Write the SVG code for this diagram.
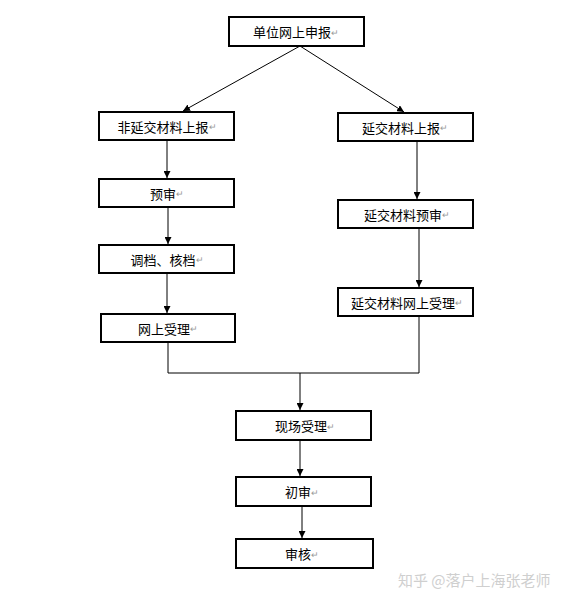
<svg xmlns="http://www.w3.org/2000/svg" width="570" height="608" viewBox="0 0 570 608">
<style>
.box{fill:#fff;stroke:#000;stroke-width:2}
.t{font-family:"Noto Sans CJK SC",sans-serif;font-size:13px;fill:#000;text-anchor:middle;dominant-baseline:central}
.r{fill:#999;font-size:9px}
.c{fill:none;stroke:#000;stroke-width:1}
.wm{font-family:"Noto Sans CJK SC",sans-serif;font-size:15px;fill:#cfcfcf}
</style>
<defs>
<marker id="ah" viewBox="0 0 10 10" refX="10" refY="5" markerWidth="7" markerHeight="7" markerUnits="userSpaceOnUse" orient="auto">
<path d="M0,0 L10,5 L0,10 z" fill="#000"/>
</marker>
</defs>
<rect width="570" height="608" fill="#fff"/>
<g id="connectors">
<line class="c" x1="300" y1="46" x2="183" y2="111" marker-end="url(#ah)"/>
<line class="c" x1="300" y1="46" x2="404" y2="112" marker-end="url(#ah)"/>
<line class="c" x1="167" y1="140" x2="167" y2="178" marker-end="url(#ah)"/>
<line class="c" x1="168" y1="207" x2="168" y2="244" marker-end="url(#ah)"/>
<line class="c" x1="167" y1="273" x2="167" y2="313" marker-end="url(#ah)"/>
<line class="c" x1="417" y1="141" x2="417" y2="199" marker-end="url(#ah)"/>
<line class="c" x1="419" y1="228" x2="419" y2="287" marker-end="url(#ah)"/>
<polyline class="c" points="168,342 168,373 419,373 419,316"/>
<line class="c" x1="300" y1="373" x2="300" y2="410" marker-end="url(#ah)"/>
<line class="c" x1="300" y1="440" x2="300" y2="476" marker-end="url(#ah)"/>
<line class="c" x1="302" y1="506" x2="302" y2="538" marker-end="url(#ah)"/>
</g>
<g id="n1"><rect class="box" x="229" y="17" width="135" height="29"/><text class="t" x="296" y="31.5">单位网上申报<tspan class="r">↵</tspan></text></g>
<g id="n2"><rect class="box" x="99" y="112" width="135" height="28"/><text class="t" x="167" y="126">非延交材料上报<tspan class="r">↵</tspan></text></g>
<g id="n3"><rect class="box" x="338" y="113" width="135" height="28"/><text class="t" x="405" y="127">延交材料上报<tspan class="r">↵</tspan></text></g>
<g id="n4"><rect class="box" x="99" y="179" width="135" height="28"/><text class="t" x="167" y="193">预审<tspan class="r">↵</tspan></text></g>
<g id="n5"><rect class="box" x="99" y="245" width="135" height="28"/><text class="t" x="167" y="259">调档、核档<tspan class="r">↵</tspan></text></g>
<g id="n6"><rect class="box" x="101" y="314" width="134" height="28"/><text class="t" x="168" y="328">网上受理<tspan class="r">↵</tspan></text></g>
<g id="n7"><rect class="box" x="338" y="200" width="135" height="28"/><text class="t" x="407" y="214">延交材料预审<tspan class="r">↵</tspan></text></g>
<g id="n8"><rect class="box" x="338" y="288" width="135" height="28"/><text class="t" x="407" y="302">延交材料网上受理<tspan class="r">↵</tspan></text></g>
<g id="n9"><rect class="box" x="236" y="411" width="135" height="29"/><text class="t" x="305" y="425.5">现场受理<tspan class="r">↵</tspan></text></g>
<g id="n10"><rect class="box" x="236" y="477" width="135" height="29"/><text class="t" x="302" y="491.5">初审<tspan class="r">↵</tspan></text></g>
<g id="n11"><rect class="box" x="236" y="539" width="137" height="29"/><text class="t" x="302" y="553.5">审核<tspan class="r">↵</tspan></text></g>
<text class="wm" x="398" y="586">知乎 @落户上海张老师</text>
</svg>
